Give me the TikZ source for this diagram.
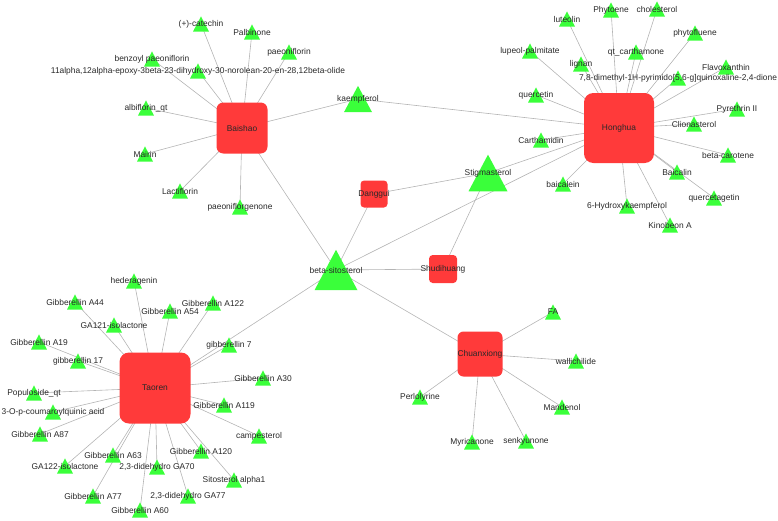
\documentclass[tikz,border=0pt]{standalone}
\usepackage{fontspec}
\setmainfont{Liberation Sans}
\usetikzlibrary{backgrounds}

\definecolor{herbred}{RGB}{255,58,58}
\definecolor{cpdgreen}{RGB}{58,255,58}
\definecolor{linkgray}{RGB}{180,180,180}
\definecolor{labtext}{RGB}{40,40,40}

\begin{document}
\begin{tikzpicture}[x=1pt,y=-1pt,
  lab/.style={font=\fontsize{8.4}{10}\selectfont,text=labtext,inner sep=0},
  herb/.style={fill=herbred,inner sep=0,minimum size=#1,rounded corners=#1/7.5},
  cpd/.style={inner sep=0,minimum width=#1,minimum height=0.94*#1,
    path picture={\fill[cpdgreen] (path picture bounding box.south west)
      -- (path picture bounding box.south east)
      -- (path picture bounding box.north) -- cycle;}},
  cpd/.default=16pt,
  link/.style={draw=linkgray,line width=0.6pt}]
\useasboundingbox (0,0) rectangle (778,520);
% herbs (red squares)
\node[herb=51pt,label={[lab]center:Baishao}] (Baishao) at (242,128) {};
\node[herb=70pt,label={[lab]center:Honghua}] (Honghua) at (619,128) {};
\node[herb=71pt,label={[lab]center:Taoren}] (Taoren) at (155,388) {};
\node[herb=45pt,label={[lab]center:Chuanxiong}] (Chuanxiong) at (480,354) {};
\node[herb=27pt,label={[lab]center:Danggui}] (Danggui) at (374,194) {};
\node[herb=28pt,label={[lab]center:Shudihuang}] (Shudihuang) at (443,269) {};
% shared compounds (bigger triangles)
\node[cpd=43pt,label={[lab]center:beta-sitosterol}] (sitosterol) at (336,270) {};
\node[cpd=39pt,label={[lab]center:Stigmasterol}] (stigmasterol) at (488,173) {};
\node[cpd=28pt,label={[lab]center:kaempferol}] (kaempferol) at (358,99) {};
% Baishao compounds
\foreach \id/\pos/\lbl in {catechin/{201,24}/{(+)-catechin}, palbinone/{252,32}/{Palbinone},
  paeoniflorin/{289,52}/{paeoniflorin}, benzoyl/{152,59}/{benzoyl paeoniflorin},
  olide/{198,71}/{11alpha,12alpha-epoxy-3beta-23-dihydroxy-30-norolean-20-en-28,12beta-olide},
  albiflorin/{146,108}/{albiflorin\_qt}, mairin/{145,154}/{Mairin},
  lactiflorin/{180,191}/{Lactiflorin}, paeoniflorgenone/{240,207}/{paeoniflorgenone}}{
  \node[cpd,label={[lab]center:\lbl}] (\id) at (\pos) {};
}
% Honghua compounds
\foreach \id/\pos/\lbl in {luteolin/{567,19}/{luteolin}, phytoene/{611,10}/{Phytoene},
  cholesterol/{657,9}/{cholesterol}, phytofluene/{695,33}/{phytofluene},
  lupeol/{530,51}/{lupeol-palmitate}, carthamone/{636,52}/{qt\_carthamone},
  lignan/{581,64}/{lignan}, flavoxanthin/{726,67}/{Flavoxanthin},
  dione/{678,78}/{7,8-dimethyl-1H-pyrimido[5,6-g]quinoxaline-2,4-dione},
  quercetin/{536,95}/{quercetin}, pyrethrin/{737,109}/{Pyrethrin II},
  clionasterol/{694,124}/{Clionasterol}, carthamidin/{541,140}/{Carthamidin},
  carotene/{728,155}/{beta-carotene}, baicalin/{677,172}/{Baicalin},
  baicalein/{563,184}/{baicalein}, quercetagetin/{714,198}/{quercetagetin},
  hydroxykaempferol/{627,206}/{6-Hydroxykaempferol}, kinobeon/{670,225}/{Kinobeon A}}{
  \node[cpd,label={[lab]center:\lbl}] (\id) at (\pos) {};
}
% Taoren compounds
\foreach \id/\pos/\lbl in {hederagenin/{134,281}/{hederagenin}, gaxliv/{75,302}/{Gibberellin A44},
  gacxxii/{213,303}/{Gibberellin A122}, galiv/{170,311}/{Gibberellin A54},
  gacxxiiso/{114,325}/{GA121-isolactone}, gaxix/{39,342}/{Gibberellin A19},
  gvii/{229,345}/{gibberellin 7}, gxvii/{78,361}/{gibberellin 17},
  gaxxx/{263,378}/{Gibberellin A30}, populoside/{34,393}/{Populoside\_qt},
  gacxix/{224,405}/{Gibberellin A119}, coumaroyl/{53,412}/{3-O-p-coumaroylquinic acid},
  galxxxvii/{40,434}/{Gibberellin A87}, campesterol/{259,436}/{campesterol},
  galxiii/{113,455}/{Gibberellin A63}, gacxx/{201,451}/{Gibberellin A120},
  gacxxiiiso/{65,466}/{GA122-isolactone}, dhlxx/{157,467}/{2,3-didehydro GA70},
  sitosterola/{234,480}/{Sitosterol alpha1}, galxxvii/{93,496}/{Gibberellin A77},
  dhlxxvii/{188,496}/{2,3-didehydro GA77}, galx/{140,510}/{Gibberellin A60}}{
  \node[cpd,label={[lab]center:\lbl}] (\id) at (\pos) {};
}
% Chuanxiong compounds
\foreach \id/\pos/\lbl in {fa/{553,312}/{FA}, wallichilide/{576,361}/{wallichilide},
  perlolyrine/{420,397}/{Perlolyrine}, mandenol/{562,407}/{Mandenol},
  myricanone/{472,442}/{Myricanone}, senkyunone/{526,441}/{senkyunone}}{
  \node[cpd,label={[lab]center:\lbl}] (\id) at (\pos) {};
}
% links, center to center, under the nodes
\begin{scope}[on background layer]
\foreach \id in {catechin,palbinone,paeoniflorin,benzoyl,olide,albiflorin,mairin,
  lactiflorin,paeoniflorgenone,kaempferol,sitosterol}
  \draw[link] (Baishao.center) -- (\id.center);
\foreach \id in {luteolin,phytoene,cholesterol,phytofluene,lupeol,carthamone,lignan,
  flavoxanthin,dione,quercetin,pyrethrin,clionasterol,carthamidin,carotene,baicalin,
  baicalein,quercetagetin,hydroxykaempferol,kinobeon,kaempferol,stigmasterol,sitosterol}
  \draw[link] (Honghua.center) -- (\id.center);
\foreach \id in {hederagenin,gaxliv,gacxxii,galiv,gacxxiiso,gaxix,gvii,gxvii,gaxxx,
  populoside,gacxix,coumaroyl,galxxxvii,campesterol,galxiii,gacxx,gacxxiiiso,dhlxx,
  sitosterola,galxxvii,dhlxxvii,galx,sitosterol}
  \draw[link] (Taoren.center) -- (\id.center);
\foreach \id in {fa,wallichilide,perlolyrine,mandenol,myricanone,senkyunone,sitosterol}
  \draw[link] (Chuanxiong.center) -- (\id.center);
\foreach \id in {Danggui,Shudihuang}{
  \draw[link] (\id.center) -- (sitosterol.center);
  \draw[link] (\id.center) -- (stigmasterol.center);
}
\end{scope}
\end{tikzpicture}
\end{document}
